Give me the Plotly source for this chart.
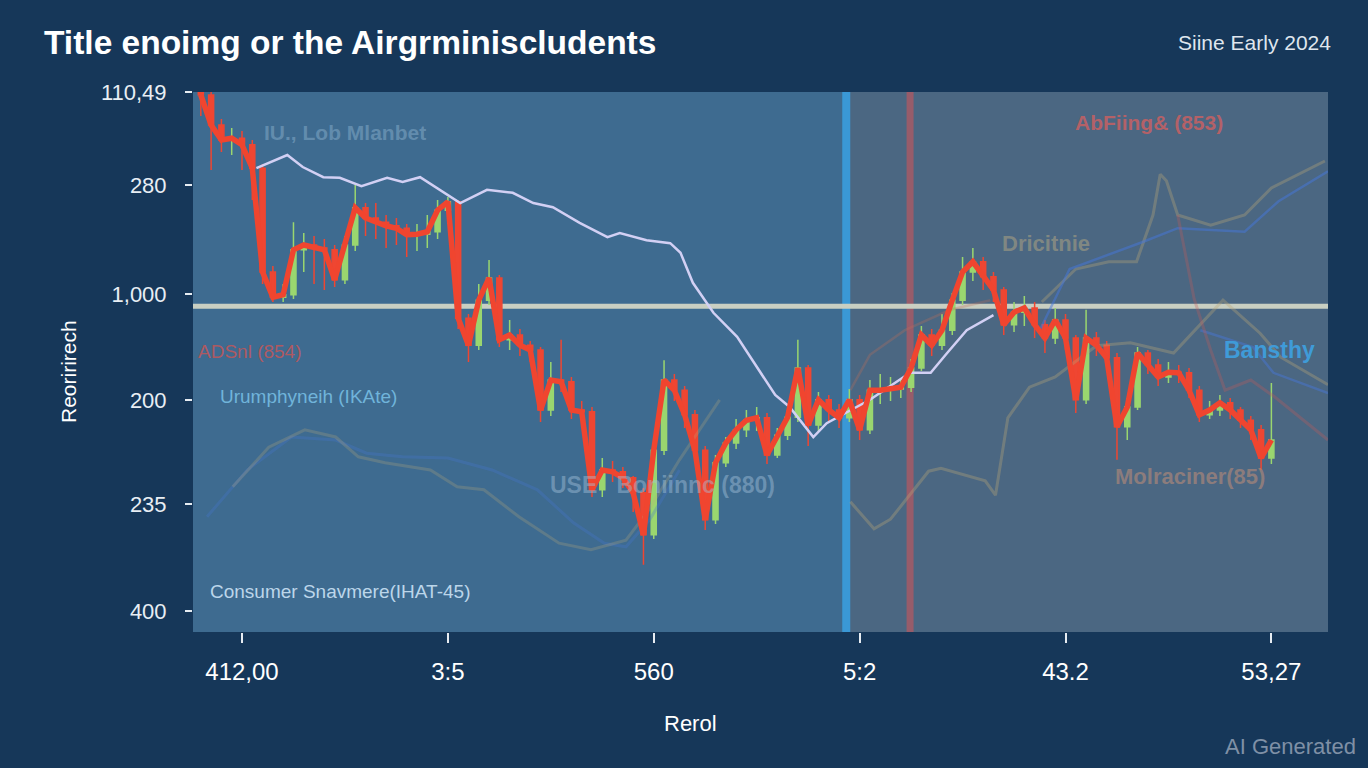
import plotly.graph_objects as go

# ---------------- data ----------------
idx = list(range(105))
close = [89.5, 84.5, 82.0, 82.3, 81.2, 77.3, 60.0, 55.8, 56.2, 63.7,
         64.5, 64.0, 63.7, 58.7, 64.5, 70.7, 69.0, 68.3, 67.7, 67.3,
         66.2, 66.3, 66.7, 70.3, 71.7, 52.3, 47.8, 55.3, 59.0, 48.7,
         49.5, 47.8, 47.0, 37.0, 42.0, 41.7, 37.0, 36.7, 23.7, 27.0,
         26.7, 25.7, 23.2, 16.2, 30.3, 42.0, 40.3, 36.2, 30.3, 18.7,
         28.2, 31.5, 33.7, 35.3, 35.7, 29.5, 32.8, 35.8, 44.0, 34.5,
         38.7, 37.0, 35.7, 38.7, 33.7, 40.3, 40.3, 40.5, 40.8, 44.0,
         49.5, 47.8, 50.3, 55.3, 60.0, 61.7, 59.2, 57.0, 51.2, 53.3,
         54.0, 51.2, 49.0, 52.0, 49.0, 38.7, 49.0, 47.8, 45.7, 34.2,
         37.5, 46.5, 44.5, 42.5, 43.3, 43.2, 40.3, 36.2, 37.0, 38.2,
         37.0, 35.3, 33.7, 29.0, 32.0]
open_ = [90.0, 89.5, 84.5, 82.0, 82.3, 81.2, 77.3, 60.0, 55.8, 56.2,
         63.7, 64.5, 64.0, 63.7, 58.7, 64.5, 70.7, 69.0, 68.3, 67.7,
         67.3, 66.2, 66.3, 66.7, 70.3, 71.7, 52.3, 47.8, 55.3, 59.0,
         48.7, 49.5, 47.8, 47.0, 37.0, 42.0, 41.7, 37.0, 36.7, 23.7,
         27.0, 26.7, 25.7, 23.2, 16.2, 30.3, 42.0, 40.3, 36.2, 30.3,
         18.7, 28.2, 31.5, 33.7, 35.3, 35.7, 29.5, 32.8, 35.8, 44.0,
         34.5, 38.7, 37.0, 35.7, 38.7, 33.7, 40.3, 40.3, 40.5, 40.8,
         44.0, 49.5, 47.8, 50.3, 55.3, 60.0, 61.7, 59.2, 57.0, 51.2,
         53.3, 54.0, 51.2, 49.0, 52.0, 49.0, 38.7, 49.0, 47.8, 45.7,
         34.2, 37.5, 46.5, 44.5, 42.5, 43.3, 43.2, 40.3, 36.2, 37.0,
         38.2, 37.0, 35.3, 33.7, 29.0]
high = [90.0, 90.0, 85.5, 84.0, 83.5, 82.0, 78.0, 61.0, 58.0, 68.3,
        66.5, 66.0, 65.5, 64.5, 66.0, 74.5, 71.5, 71.5, 69.5, 69.0,
        68.0, 68.0, 69.5, 72.0, 72.5, 72.0, 53.0, 58.0, 62.0, 59.5,
        52.0, 50.5, 48.5, 47.5, 45.0, 48.7, 42.5, 38.5, 37.5, 29.0,
        28.5, 27.5, 26.0, 24.0, 31.0, 45.3, 43.0, 41.0, 37.0, 31.0,
        29.5, 32.5, 35.5, 37.0, 37.5, 36.5, 34.0, 37.0, 48.7, 44.5,
        40.0, 39.5, 38.0, 40.5, 39.5, 42.0, 43.0, 42.5, 42.0, 45.5,
        51.0, 50.5, 53.0, 56.5, 62.5, 64.0, 62.5, 60.0, 57.5, 55.0,
        56.0, 55.0, 52.0, 54.0, 53.0, 49.5, 53.7, 50.0, 48.5, 46.5,
        39.0, 47.5, 47.0, 45.5, 45.0, 44.5, 44.0, 41.0, 38.5, 39.5,
        39.0, 37.5, 36.0, 34.5, 41.5]
low = [86.0, 77.0, 80.0, 79.5, 77.0, 72.0, 58.0, 55.0, 55.0, 55.5,
       60.0, 58.0, 57.0, 57.5, 58.0, 63.5, 66.0, 65.5, 64.0, 64.5,
       62.5, 63.5, 64.0, 65.5, 68.0, 50.5, 45.0, 47.0, 54.5, 47.5,
       47.0, 46.0, 45.0, 35.0, 36.0, 40.0, 35.5, 34.5, 22.5, 22.5,
       25.0, 24.0, 20.0, 11.2, 15.5, 29.5, 38.5, 34.0, 28.5, 17.0,
       18.0, 27.5, 30.5, 32.5, 33.5, 28.0, 29.0, 32.0, 35.0, 31.0,
       33.5, 35.0, 34.0, 35.0, 32.0, 33.0, 38.0, 38.5, 39.0, 40.0,
       43.5, 46.0, 47.0, 49.5, 54.5, 58.5, 57.0, 55.0, 49.5, 50.0,
       51.0, 49.0, 46.5, 48.0, 47.0, 36.5, 38.0, 46.0, 44.0, 28.7,
       32.0, 37.0, 43.0, 41.0, 41.5, 41.5, 39.0, 35.0, 35.5, 36.0,
       35.5, 34.0, 32.0, 27.0, 28.0]

avg_x = [5.4, 8.4, 9.9, 11.9, 13.5, 15.6, 18.1, 19.6, 21.3, 23.2, 25.2, 27.8, 30.3, 32.3,
         34.2, 36.8, 39.5, 40.7, 43.3, 45.6, 46.6, 47.8, 49.8, 52.1, 54.0, 55.8, 57.2,
         58.2, 59.5, 60.8, 65.0, 68.9, 70.9, 72.5, 74.4, 77.0]
avg_y = [77.3, 79.5, 77.5, 75.8, 75.7, 74.3, 75.7, 75.0, 75.8, 73.7, 71.5, 73.7, 73.2, 71.5,
         70.8, 68.2, 65.8, 66.5, 65.3, 64.8, 63.2, 58.2, 53.2, 49.2, 44.2, 39.5, 37.5,
         35.3, 32.5, 34.8, 38.7, 43.2, 43.2, 46.5, 50.3, 52.8]

left_blue_x = [0.6, 4.5, 8.8, 13.1, 16.1, 19.6, 24.0, 28.3, 32.7, 36.2, 39.2, 41.3, 43.6, 46.5]
left_blue_y = [19.2, 27.0, 32.5, 32.0, 29.8, 29.2, 29.0, 27.0, 23.7, 18.2, 14.8, 14.2, 18.7, 27.0]
left_tan_x = [3.1, 6.6, 10.1, 13.1, 15.3, 17.9, 22.3, 24.9, 27.5, 30.9, 34.8, 37.9, 41.3, 43.5, 46.5, 50.4]
left_tan_y = [24.2, 30.8, 33.7, 32.5, 29.2, 28.2, 27.0, 24.2, 23.7, 19.2, 14.8, 13.7, 15.3, 20.3, 28.7, 38.7]
right_tan_x = [63.1, 65.4, 67.0, 70.7, 71.9, 76.2, 77.2, 78.4, 80.5, 83.0, 87.0, 90.3, 94.5, 99.3, 102.9, 104.9, 109.5]
right_tan_y = [21.7, 17.2, 18.8, 26.8, 27.3, 25.2, 22.8, 35.7, 40.8, 42.5, 47.7, 48.2, 46.5, 55.3, 49.8, 45.8, 41.2]
brown_x = [63.1, 65.0, 68.4, 72.8, 76.7]
brown_y = [40.3, 46.2, 50.3, 53.7, 55.3]
upper_tan_x = [81.7, 85.0, 88.2, 90.9, 92.5, 93.2, 93.8, 94.9, 98.1, 101.4, 104.0, 109.2]
upper_tan_y = [55.0, 60.5, 61.7, 61.7, 69.5, 76.3, 75.2, 69.5, 67.8, 69.5, 74.0, 78.5]
upper_blue_x = [81.5, 84.4, 91.5, 94.9, 101.4, 104.7, 109.5]
upper_blue_y = [50.3, 60.5, 65.0, 67.3, 66.7, 71.8, 76.8]
lower_blue_x = [97.1, 102.2, 104.2, 109.5]
lower_blue_y = [50.3, 47.5, 43.2, 39.8]
faded_red_x = [94.9, 96.5, 98.1, 99.5, 102.0, 104.3, 109.5]
faded_red_y = [69.5, 55.5, 47.0, 40.3, 42.0, 39.2, 32.0]

x_tickvals = [4, 24, 44, 64, 84, 104]
x_ticktext = ["412,00", "3:5", "560", "5:2", "43.2", "53,27"]
y_tickvals = [90, 74.5, 56.3, 38.7, 21.3, 3.5]
y_ticktext = ["110,49", "280", "1,000", "200", "235", "400"]

X_RANGE = [-0.76, 109.5]
Y_RANGE = [0, 90]
BLUE_LINE_X = 62.7
RED_LINE_X = 68.9
H_LINE_Y = 54.3

FONT = "Liberation Sans, Arial, sans-serif"

fig = go.Figure()

def faint(xs, ys, color, width=2.5):
    fig.add_trace(go.Scatter(x=xs, y=ys, mode="lines", line=dict(color=color, width=width),
                             hoverinfo="skip", showlegend=False))

faint(left_blue_x, left_blue_y, "rgba(70,120,210,0.30)", 3)
faint(left_tan_x, left_tan_y, "rgba(190,170,120,0.25)", 3)
faint(right_tan_x, right_tan_y, "rgba(185,165,120,0.35)", 3)
faint(brown_x, brown_y, "rgba(190,110,90,0.30)", 2.5)
faint(upper_tan_x, upper_tan_y, "rgba(185,165,120,0.35)", 3)
faint(upper_blue_x, upper_blue_y, "rgba(70,120,220,0.5)", 2.5)
faint(lower_blue_x, lower_blue_y, "rgba(70,120,220,0.45)", 2.5)
faint(faded_red_x, faded_red_y, "rgba(200,90,90,0.30)", 3)

fig.add_trace(go.Scatter(x=avg_x, y=avg_y, mode="lines",
                         line=dict(color="#d2d0f4", width=2.5), showlegend=False))

fig.add_trace(go.Candlestick(
    x=idx, open=open_, high=high, low=low, close=close,
    increasing=dict(line=dict(color="#9ad66f", width=1.5), fillcolor="#9ad66f"),
    decreasing=dict(line=dict(color="#ef4632", width=1.5), fillcolor="#ef4632"),
    whiskerwidth=0, showlegend=False))

fig.add_trace(go.Scatter(x=idx, y=close, mode="lines",
                         line=dict(color="#f0452f", width=5.5), showlegend=False))

shapes = [
    dict(type="rect", xref="x", yref="paper", x0=BLUE_LINE_X, x1=X_RANGE[1], y0=0, y1=1,
         fillcolor="#4b6782", line=dict(width=0), layer="below"),
    dict(type="line", xref="x", yref="paper", x0=BLUE_LINE_X, x1=BLUE_LINE_X, y0=0, y1=1,
         line=dict(color="#3a98d6", width=8), layer="below"),
    dict(type="line", xref="x", yref="paper", x0=RED_LINE_X, x1=RED_LINE_X, y0=0, y1=1,
         line=dict(color="rgba(170,90,100,0.8)", width=7), layer="below"),
    dict(type="line", xref="paper", yref="y", x0=0, x1=1, y0=H_LINE_Y, y1=H_LINE_Y,
         line=dict(color="#c9cfc2", width=5), layer="below"),
]

def note(text, x, y, color, size, bold=False):
    return dict(text=f"<b>{text}</b>" if bold else text, x=x, y=y, xref="x", yref="y",
                xanchor="left", yanchor="middle", showarrow=False,
                font=dict(family=FONT, size=size, color=color))

annotations = [
    note("IU., Lob Mlanbet", 5.9, 83.3, "rgba(130,170,200,0.55)", 21, True),
    note("AbFiing& (853)", 84.7, 85.0, "rgba(215,95,95,0.75)", 21, True),
    note("Dricitnie", 77.6, 64.7, "rgba(175,165,130,0.55)", 22, True),
    note("ADSnl (854)", -0.5, 46.7, "rgba(205,85,85,0.8)", 19),
    note("Bansthy", 99.2, 47.0, "#3f9bd8", 23, True),
    note("Urumphyneih (IKAte)", 1.65, 39.3, "#70b4da", 19),
    note("USE   Boniinnc (880)", 33.7, 24.5, "rgba(165,195,220,0.45)", 23, True),
    note("Molraciner(85)", 88.6, 26.0, "rgba(185,140,120,0.6)", 22, True),
    note("Consumer Snavmere(IHAT-45)", 0.7, 6.7, "#bcd6ea", 19),
]

W, H = 1368, 768
L, R, T, B = 193, 40, 92, 136
pw, ph = W - L - R, H - T - B
def px(xp): return (xp - L) / pw
def py(yp): return (H - B - yp) / ph
annotations += [
    dict(text="<b>Title enoimg or the Airgrminiscludents</b>", x=px(42), y=py(43), xref="paper",
         yref="paper", xanchor="left", yanchor="middle", showarrow=False,
         font=dict(family=FONT, size=33.5, color="white")),
    dict(text="Siine Early 2024", x=px(1333), y=py(43), xref="paper", yref="paper", xanchor="right",
         yanchor="middle", showarrow=False, font=dict(family=FONT, size=21, color="#dfe6ee")),
    dict(text="AI Generated", x=px(1358), y=py(746), xref="paper", yref="paper", xanchor="right",
         yanchor="middle", showarrow=False, font=dict(family=FONT, size=22, color="#7f90a6")),
    dict(text="Rerol", x=px(690), y=py(723), xref="paper", yref="paper", xanchor="center",
         yanchor="middle", showarrow=False, font=dict(family=FONT, size=22, color="white")),
    dict(text="Reoririrech", x=px(68), y=py(372), xref="paper", yref="paper", xanchor="center",
         yanchor="middle", textangle=-90, showarrow=False,
         font=dict(family=FONT, size=21, color="white")),
]

fig.update_layout(
    width=W, height=H,
    margin=dict(l=L, r=R, t=T, b=B),
    paper_bgcolor="#163759",
    plot_bgcolor="#3e6b90",
    shapes=shapes,
    annotations=annotations,
    showlegend=False,
    font=dict(family=FONT, color="white"),
    xaxis=dict(range=X_RANGE, tickvals=x_tickvals, ticktext=x_ticktext, showgrid=False,
               zeroline=False, showline=False, ticks="outside", ticklen=10, tickcolor="#e6ecf2",
               tickwidth=1.5, tickfont=dict(size=24, color="white"),
               rangeslider=dict(visible=False), ticklabelstandoff=8),
    yaxis=dict(range=Y_RANGE, tickvals=y_tickvals, ticktext=y_ticktext, showgrid=False,
               zeroline=False, showline=False, ticks="outside", ticklen=7, tickcolor="#e6ecf2",
               tickwidth=1.5, tickfont=dict(size=22, color="#e8eef4"), ticklabelstandoff=14),
)

fig.write_html("out.html", config={"displayModeBar": False},
               post_script="document.body.style.margin='0';document.body.style.overflow='hidden';")
